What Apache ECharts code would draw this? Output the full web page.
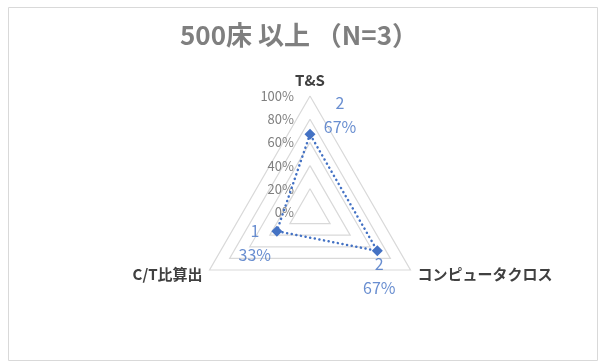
<!DOCTYPE html>
<html>
<head>
<meta charset="utf-8">
<script src="https://cdn.jsdelivr.net/npm/echarts@6/dist/echarts.min.js"></script>
<style>
  html, body { margin: 0; padding: 0; background: #fff; }
  #chart { width: 598px; height: 363px; }
</style>
</head>
<body>
<div id="chart"></div>
<script>
// Radar axes, listed counter-clockwise from the top (ECharts radar order)
const categories = ['T&S', 'C/T比算出', 'コンピュータクロス'];
// Share of hospitals (%) per item
const percents = [67, 33, 67];
// Number of hospitals per item
const counts = [2, 1, 2];
// Scale tick values (%)
const ticks = [0, 20, 40, 60, 80, 100];
const titleText = '500床 以上 （N=3）';

const FONT = '"Noto Sans CJK JP", "Noto Sans", sans-serif';
const BLUE = '#4472c4';
const CENTER = [310, 212];
const RADIUS = 116;

// where each value label sits relative to its marker
const labelOffset = {
  'T&S': [30, -19],
  'C/T比算出': [-22, 12],
  'コンピュータクロス': [2, 25]
};

const chart = echarts.init(document.getElementById('chart'), null, { renderer: 'canvas' });

const indicator = categories.map((name, i) => {
  const ind = { name: name, min: ticks[0], max: ticks[ticks.length - 1] };
  if (i === 0) {
    ind.axisLabel = {
      show: true,
      color: '#7f7f7f',
      fontSize: 13,
      fontFamily: FONT,
      margin: 16,
      formatter: '{value}%'
    };
  }
  return ind;
});

chart.setOption({
  animation: false,
  title: {
    text: titleText,
    left: 'center',
    top: 17,
    textStyle: { color: '#7f7f7f', fontSize: 26, fontWeight: 'bold', fontFamily: FONT }
  },
  graphic: [{
    type: 'rect',
    shape: { x: 8.5, y: 7.5, width: 589, height: 353 },
    style: { fill: 'none', stroke: '#d9d9d9', lineWidth: 1 },
    silent: true
  }],
  radar: {
    center: CENTER,
    radius: RADIUS,
    shape: 'polygon',
    startAngle: 90,
    splitNumber: ticks.length - 1,
    indicator: indicator,
    axisName: {
      color: '#404040',
      fontSize: 15,
      fontWeight: 'bold',
      fontFamily: FONT
    },
    nameGap: 8,
    axisLine: { show: false },
    axisTick: { show: false },
    axisLabel: { show: false },
    splitArea: { show: false },
    splitLine: { lineStyle: { color: '#d9d9d9', width: 1.2 } }
  },
  polar: { center: CENTER, radius: RADIUS },
  angleAxis: {
    type: 'category',
    data: categories,
    startAngle: 90,
    clockwise: false,
    boundaryGap: false,
    show: false
  },
  radiusAxis: {
    min: ticks[0],
    max: ticks[ticks.length - 1],
    show: false
  },
  series: [
    {
      type: 'radar',
      symbol: 'diamond',
      symbolSize: 11,
      lineStyle: { color: BLUE, width: 2.5, type: [0.1, 4.6], cap: 'round' },
      itemStyle: { color: BLUE },
      data: [{ value: percents, name: titleText }]
    },
    {
      // value labels: count on the first line, percentage below
      type: 'scatter',
      coordinateSystem: 'polar',
      symbolSize: 0,
      silent: true,
      data: categories.map((c, i) => ({
        value: [percents[i], i],
        label: { offset: labelOffset[c] }
      })),
      label: {
        show: true,
        position: 'inside',
        align: 'center',
        color: BLUE,
        fontSize: 16,
        lineHeight: 24,
        fontFamily: FONT,
        formatter: p => counts[p.dataIndex] + '\n' + percents[p.dataIndex] + '%'
      }
    }
  ]
});
</script>
</body>
</html>
